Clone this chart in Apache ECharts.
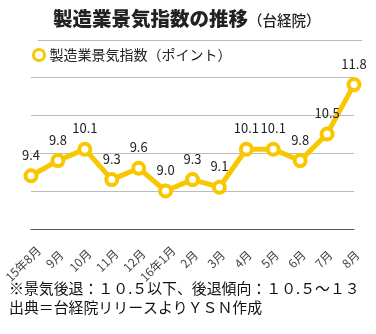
<!DOCTYPE html>
<html><head><meta charset="utf-8">
<script src="https://cdn.jsdelivr.net/npm/echarts@6/dist/echarts.min.js"></script>
<style>html,body{margin:0;padding:0;background:#fff}#c{width:376px;height:334px}</style>
</head><body><div id="c"></div>
<script>
const categories = ['15年8月','9月','10月','11月','12月','16年1月','2月','3月','4月','5月','6月','7月','8月'];
const values = [9.4, 9.8, 10.1, 9.3, 9.6, 9.0, 9.3, 9.1, 10.1, 10.1, 9.8, 10.5, 11.8];
const seriesName = '製造業景気指数（ポイント）';
const titleMain = '製造業景気指数の推移';
const titleSub = '（台経院）';
const note1 = '※景気後退：１０.５以下、後退傾向：１０.５～１３';
const note2 = '出典＝台経院リリースよりＹＳＮ作成';

const FONT = '"Noto Sans CJK JP", sans-serif';
const YELLOW = '#F8C700';
const AX_FS = 12;

// measure label widths so rotated labels can be centred on their ticks
const ctx = document.createElement('canvas').getContext('2d');
ctx.font = AX_FS + 'px "Noto Sans CJK JP"';
const catItems = categories.map(c => {
  const w = ctx.measureText(c).width;
  const q = w / 4;
  return { value: c, textStyle: { padding: [2 * q, -q, 0, 0] } };
});

const chart = echarts.init(document.getElementById('c'));
chart.setOption({
  backgroundColor: '#fff',
  animation: false,
  textStyle: { fontFamily: FONT },
  title: {
    text: '{a|' + titleMain + '}{b|' + titleSub + '}',
    left: 48, top: 4,
    textStyle: {
      rich: {
        a: { fontSize: 19.5, fontWeight: 900, color: '#222', fontFamily: FONT },
        b: { fontSize: 14.5, fontWeight: 500, color: '#222', fontFamily: FONT, padding: [3, 0, 0, 0] }
      }
    }
  },
  legend: {
    left: 27, top: 43,
    itemWidth: 11, itemHeight: 11, itemGap: 10,
    icon: 'circle',
    itemStyle: { color: '#fff', borderColor: YELLOW, borderWidth: 3 },
    textStyle: { fontSize: 14, color: '#222', fontFamily: FONT },
    data: [seriesName]
  },
  graphic: [
    { type: 'line', shape: { x1: 38, y1: 40.5, x2: 362, y2: 40.5 }, style: { stroke: '#bbb', lineWidth: 1 } },
    { type: 'text', left: 9, top: 281, style: { text: note1, fontSize: 14.9, fill: '#111', fontFamily: FONT } },
    { type: 'text', left: 9, top: 300, style: { text: note2, fontSize: 14.9, fill: '#111', fontFamily: FONT } }
  ],
  grid: { left: 31, right: 22, top: 77, bottom: 105 },
  xAxis: {
    type: 'category',
    data: catItems,
    boundaryGap: false,
    axisLine: { lineStyle: { color: '#555', width: 1 } },
    axisTick: { show: false },
    axisLabel: { rotate: 45, margin: 27, fontSize: AX_FS, color: '#444', fontFamily: FONT, interval: 0 }
  },
  yAxis: {
    type: 'value', min: 8, max: 12, interval: 1,
    axisLabel: { show: false },
    axisLine: { show: false },
    axisTick: { show: false },
    splitLine: { lineStyle: { color: '#bbb', width: 1 } }
  },
  series: [{
    name: seriesName,
    type: 'line',
    data: values,
    symbol: 'circle',
    symbolSize: 11,
    lineStyle: { color: YELLOW, width: 5 },
    itemStyle: { color: '#fff', borderColor: YELLOW, borderWidth: 4 },
    label: { show: true, position: 'top', distance: 7, fontSize: 13, color: '#222', fontFamily: FONT,
      formatter: p => p.value.toFixed(1) },
    emphasis: { disabled: true }
  }]
});
</script></body></html>
